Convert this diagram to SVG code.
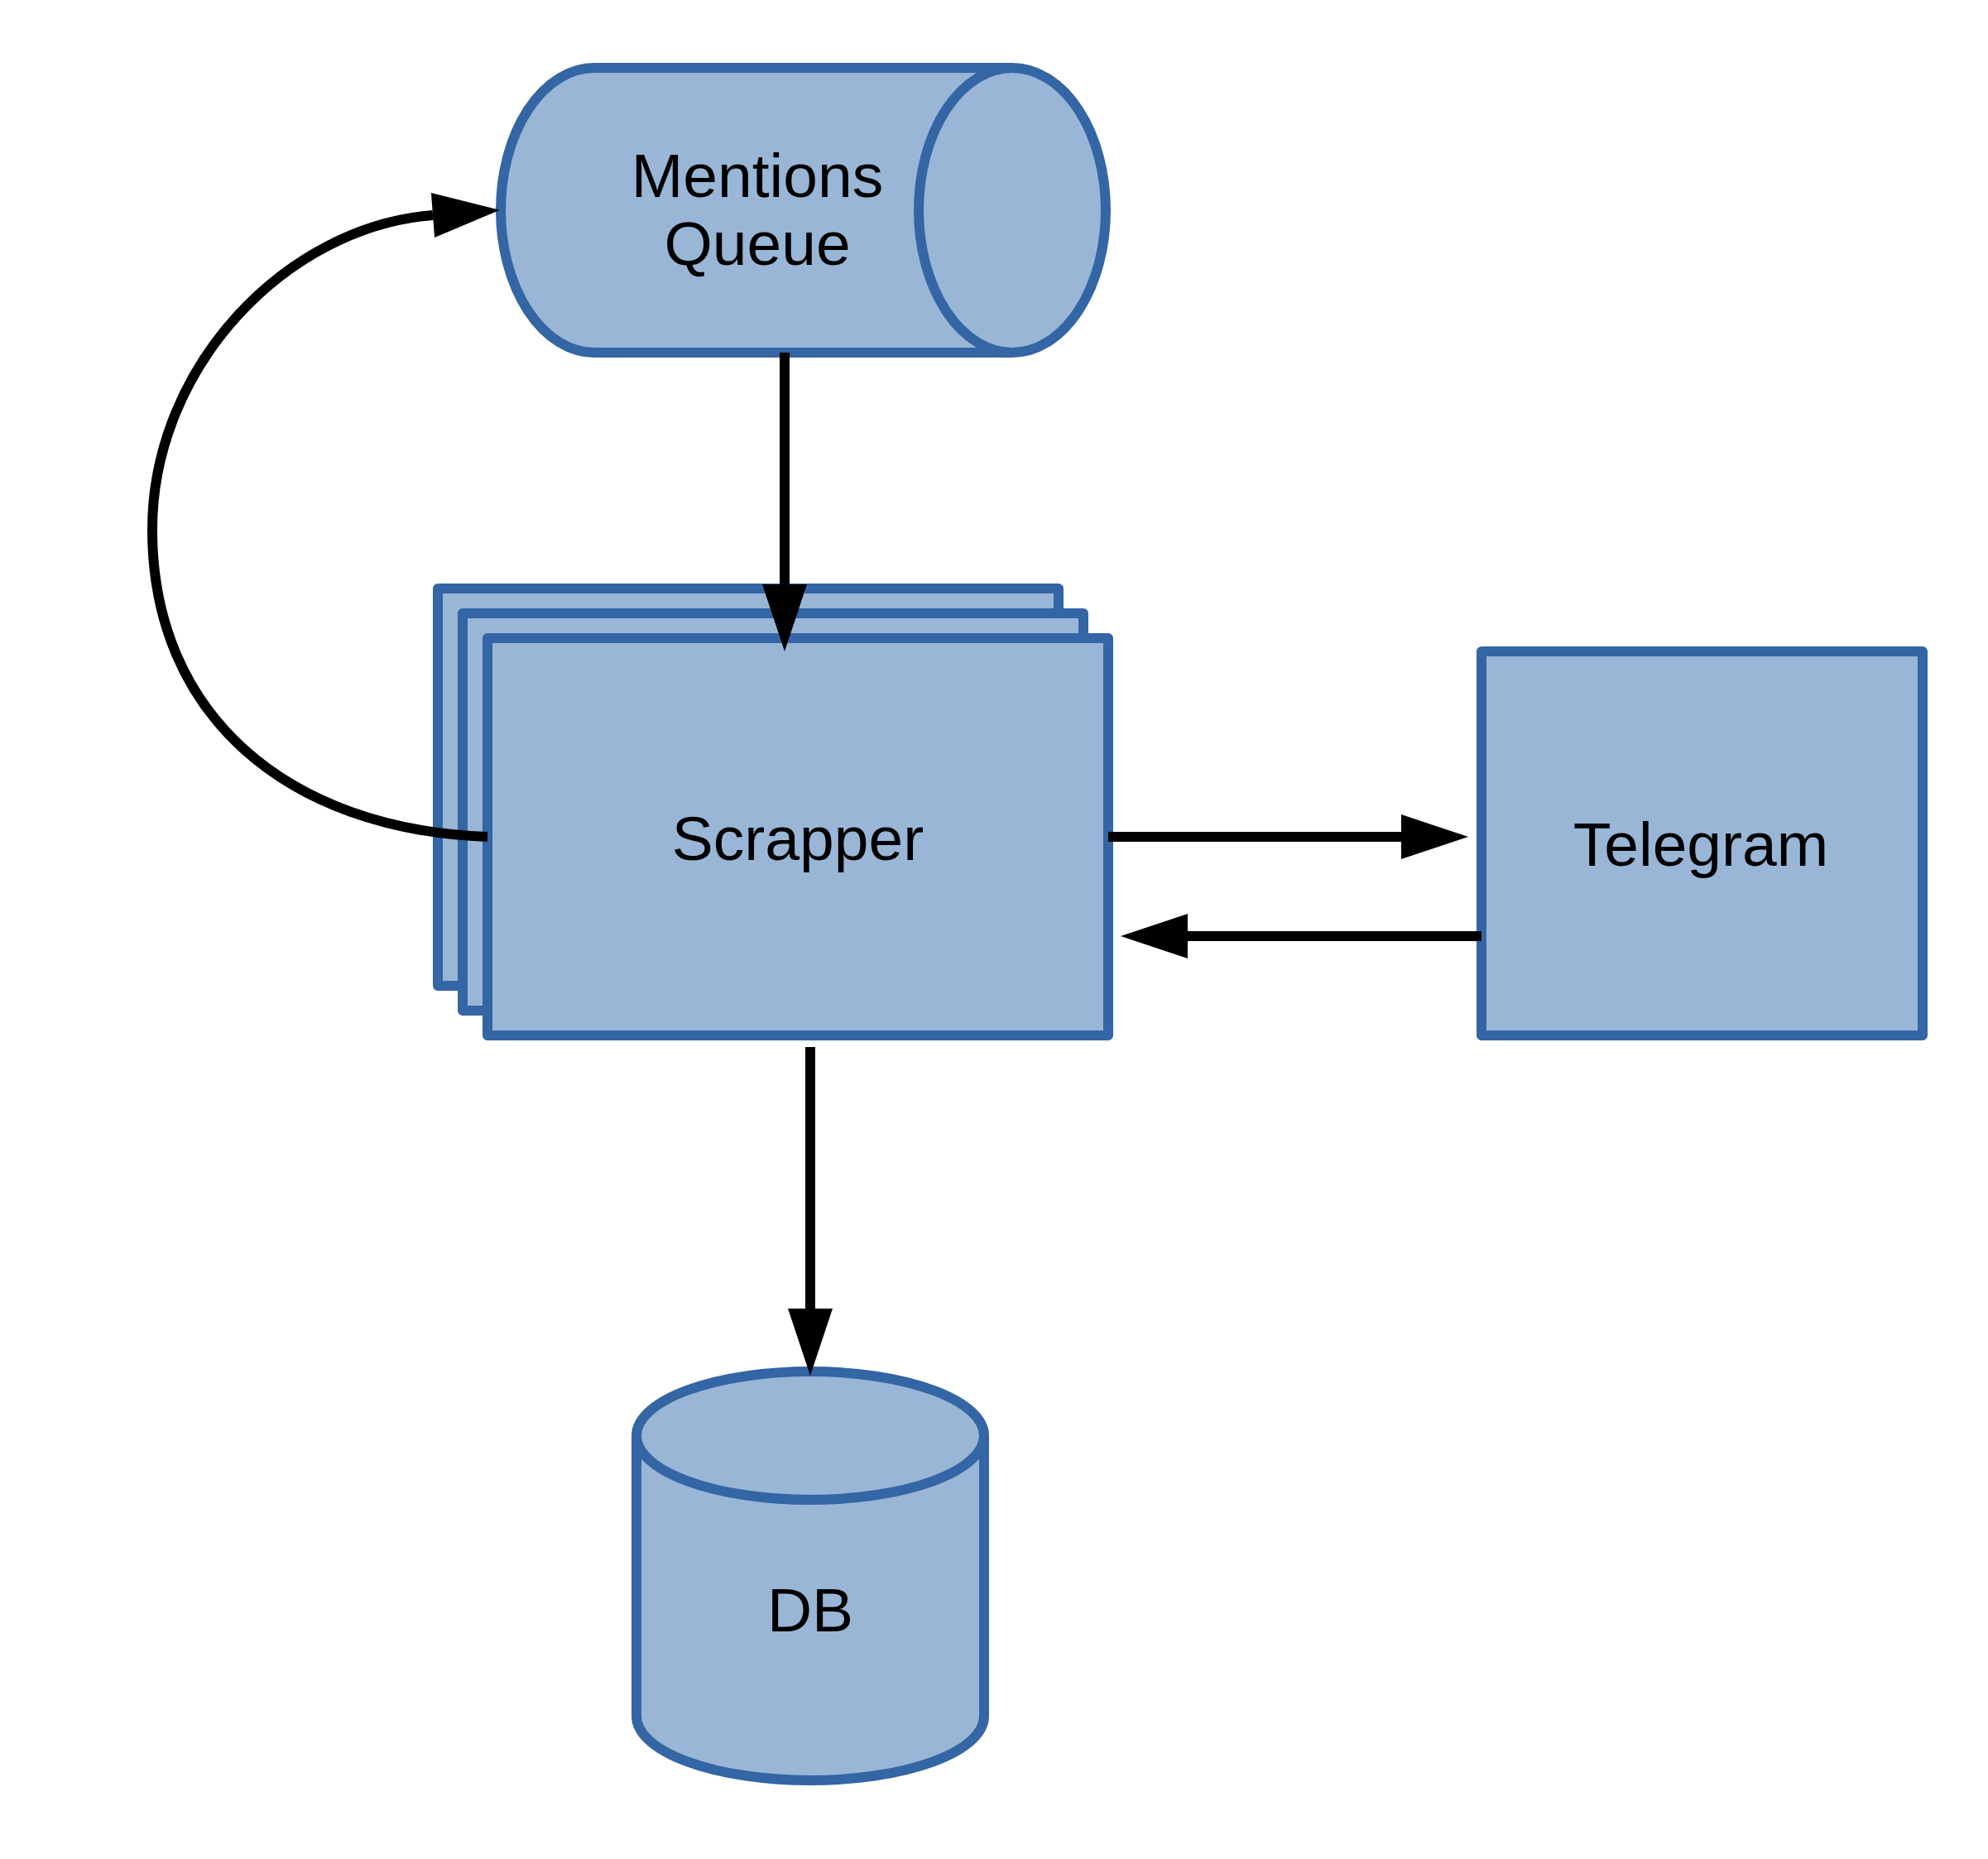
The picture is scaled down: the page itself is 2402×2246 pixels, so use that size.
<svg xmlns="http://www.w3.org/2000/svg" width="2402" height="2246" viewBox="0 0 2402 2246">
<style>
.shape{fill:#99b6d6;stroke:#3465a4;stroke-width:12;stroke-linejoin:round}
.inner{fill:none;stroke:#3465a4;stroke-width:12}
.lbl{font-family:"Liberation Sans",Arial,sans-serif;font-size:75px;fill:#000;text-anchor:middle}
.conn{fill:none;stroke:#000;stroke-width:12}
</style>
<defs>
<marker id="arrow" markerUnits="userSpaceOnUse" markerWidth="82" markerHeight="56" viewBox="0 -28 82 56" refX="0" refY="0" orient="auto" overflow="visible">
<path d="M0,-27 L81,0 L0,27 Z" fill="#000"/>
</marker>
</defs>
<rect width="2402" height="2246" fill="#fff"/>
<g id="mentions-queue">
<path class="shape" d="M718,82 H1223 A113,172 0 0 1 1223,426 H718 A113,172 0 0 1 718,82 Z"/>
<path class="inner" d="M1223,82 A113,172 0 0 0 1223,426"/>
<text class="lbl" x="915" y="238">Mentions</text>
<text class="lbl" x="915" y="320">Queue</text>
</g>
<g id="scrapper">
<rect class="shape" x="529" y="711" width="750" height="480"/>
<rect class="shape" x="559" y="741" width="750" height="480"/>
<rect class="shape" x="589" y="771" width="750" height="480"/>
<text class="lbl" x="964" y="1039">Scrapper</text>
</g>
<g id="telegram">
<rect class="shape" x="1790" y="787" width="533" height="464"/>
<text class="lbl" x="2055" y="1046">Telegram</text>
</g>
<g id="db">
<path class="shape" d="M769,1734.5 A210,77.5 0 0 1 1189,1734.5 V2073.5 A210,77.5 0 0 1 769,2073.5 Z"/>
<path class="inner" d="M769,1734.5 A210,77.5 0 0 0 1189,1734.5"/>
<text class="lbl" x="979" y="1971">DB</text>
</g>
<g id="connectors">
<path class="conn" d="M948,426 V706" marker-end="url(#arrow)"/>
<path class="conn" d="M979,1265 V1581" marker-end="url(#arrow)"/>
<path class="conn" d="M1339,1011 H1693" marker-end="url(#arrow)"/>
<path class="conn" d="M1790,1131 H1435" marker-end="url(#arrow)"/>
<path class="conn" d="M589,1011 C346,1002 184,863 184,640 C184,442 347,273.5 523,260" marker-end="url(#arrow)"/>
</g>
</svg>
